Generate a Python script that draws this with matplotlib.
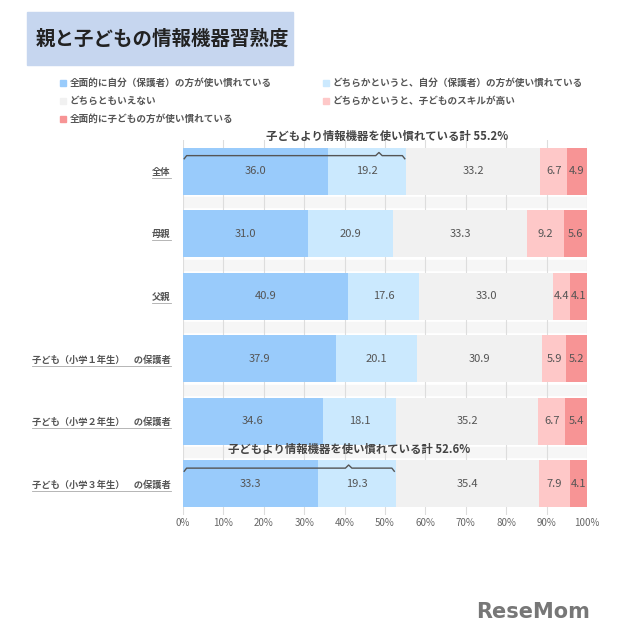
import matplotlib
matplotlib.use("Agg")
import matplotlib.pyplot as plt
from matplotlib.patches import Rectangle
from matplotlib.lines import Line2D
import numpy as np

plt.rcParams["font.family"] = ["Noto Sans CJK JP", "DejaVu Sans"]

categories = ["全体", "母親", "父親", "子ども（小学１年生）　の保護者",
              "子ども（小学２年生）　の保護者", "子ども（小学３年生）　の保護者"]
series_names = ["全面的に自分（保護者）の方が使い慣れている",
                "どちらかというと、自分（保護者）の方が使い慣れている",
                "どちらともいえない",
                "どちらかというと、子どものスキルが高い",
                "全面的に子どもの方が使い慣れている"]
fully_parent = [36.0, 31.0, 40.9, 37.9, 34.6, 33.3]
rather_parent = [19.2, 20.9, 17.6, 20.1, 18.1, 19.3]
neither = [33.2, 33.3, 33.0, 30.9, 35.2, 35.4]
rather_child = [6.7, 9.2, 4.4, 5.9, 6.7, 7.9]
fully_child = [4.9, 5.6, 4.1, 5.2, 5.4, 4.1]
bracket_rows = [0, 5]
bracket_labels = ["子どもより情報機器を使い慣れている計 55.2%",
                  "子どもより情報機器を使い慣れている計 52.6%"]
bracket_label_x = [50.5, 41]
bracket_peak_x = [48.5, 41]

colors = ["#99cbfb", "#cbe9fe", "#f1f1f1", "#fec8c8", "#f79495"]
series = [fully_parent, rather_parent, neither, rather_child, fully_child]

fig = plt.figure(figsize=(6.4, 6.36), dpi=100)
ax = fig.add_axes([183 / 640, 1 - 515 / 636, 404 / 640, 375 / 636])

y = np.arange(len(categories))
left = np.zeros(len(categories))
for vals, col in zip(series, colors):
    vals = np.array(vals)
    ax.barh(y, vals, left=left, height=0.745, color=col, zorder=2)
    for yi, (l, v) in enumerate(zip(left, vals)):
        ax.text(l + v / 2, yi, f"{v:.1f}", ha="center", va="center",
                fontsize=8, color="#555555", zorder=3)
    left += vals

ax.set_xlim(0, 100)
ax.set_ylim(len(categories) - 0.5, -0.5)
ax.set_yticks(y)
ax.set_yticklabels(categories, fontsize=6.7, fontweight="bold", color="#555555")
ax.set_xticks(np.arange(0, 101, 10))
ax.set_xticklabels([f"{t}%" for t in range(0, 101, 10)], fontsize=7, color="#666666")
ax.tick_params(length=0)
ax.tick_params(axis="x", pad=2)
ax.tick_params(axis="y", pad=9)
for s in ax.spines.values():
    s.set_visible(False)
ax.grid(axis="x", color="#dddddd", linewidth=0.8, zorder=0)
for yi in y[:-1]:
    ax.axhspan(yi + 0.42, yi + 0.58, color="#f6f6f6", zorder=0.5)

# brackets over the parent-side total
for row, label, lx, px in zip(bracket_rows, bracket_labels, bracket_label_x, bracket_peak_x):
    total = fully_parent[row] + rather_parent[row]
    yb = row - 0.25
    xs = [0.3, 0.9, px - 0.8, px, px + 0.8, total - 0.9, total - 0.3]
    ys = [yb + 0.05, yb, yb, yb - 0.05, yb, yb, yb + 0.05]
    ax.plot(xs, ys, color="#555555", linewidth=1.0, zorder=4)
    ax.text(lx, row - 0.55, label, ha="center", va="center",
            fontsize=8.2, fontweight="bold", color="#444444", zorder=5)

# title box
fig.patches.append(Rectangle((27 / 640, 1 - 65 / 636), 266 / 640, 53 / 636,
                             transform=fig.transFigure, color="#c6d6ef", zorder=0))
fig.text(36 / 640, 1 - 39 / 636, "親と子どもの情報機器習熟度", fontsize=14,
         fontweight="bold", color="#222222", va="center")

# legend
legend_pos = [(60, 83), (323, 83), (60, 101), (323, 101), (60, 119)]
for (lx, ly), name, col in zip(legend_pos, series_names, colors):
    fig.patches.append(Rectangle((lx / 640, 1 - (ly + 3) / 636), 6 / 640, 6 / 636,
                                 transform=fig.transFigure, color=col))
    fig.text((lx + 10) / 640, 1 - ly / 636, name, fontsize=6.9, fontweight="bold",
             color="#555555", va="center")

fig.text(590 / 640, 1 - 612 / 636, "ReseMom", fontsize=15, fontweight="bold",
         color="#777777", ha="right", va="center", family="DejaVu Sans")

# underline the category labels
fig.canvas.draw()
for lab in ax.get_yticklabels():
    bb = lab.get_window_extent()
    fig.lines.append(Line2D([bb.x0 / 640, bb.x1 / 640], [(bb.y0 - 1) / 636] * 2,
                            transform=fig.transFigure, color="#aaaaaa", linewidth=0.6))

fig.savefig("out.png", dpi=100)
